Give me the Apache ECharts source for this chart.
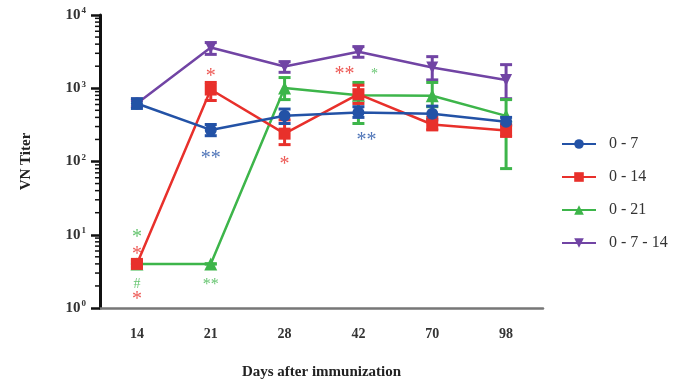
<!DOCTYPE html>
<html>
<head>
<meta charset="utf-8">
<script src="https://cdn.jsdelivr.net/npm/echarts@6/dist/echarts.min.js"></script>
<style>html,body{margin:0;padding:0;background:#fff}#c{width:679px;height:385px}</style>
</head>
<body>
<div id="c"></div>
<script>
var days = ['14', '21', '28', '42', '70', '98'];
var names = ['0 - 7', '0 - 14', '0 - 21', '0 - 7 - 14'];

var g07 = [620, 270, 420, 465, 450, 350];
var g07Lo = [530, 225, 330, 400, 370, 310];
var g07Hi = [720, 320, 520, 560, 570, 400];

var g014 = [4, 960, 240, 830, 320, 265];
var g014Lo = [3.6, 680, 170, 620, 270, 220];
var g014Hi = [4.4, 1200, 370, 1100, 400, 320];

var g021 = [4, 4, 1010, 800, 790, 420];
var g021Lo = [4, 4, 700, 330, 560, 80];
var g021Hi = [4, 4, 1400, 1200, 1200, 700];

var g0714 = [620, 3600, 1980, 3150, 1920, 1300];
var g0714Lo = [560, 2900, 1650, 2650, 1300, 720];
var g0714Hi = [680, 4200, 2300, 3700, 2700, 2100];

var yTicks = [1, 10, 100, 1000, 10000];

// significance annotations: category index, value, text, group index
var annCat = [0, 0, 0, 0, 1, 1, 1, 2, 3, 3, 3];
var annVal = [9.0, 5.4, 2.1, 1.3, 2.1, 1450, 110, 90, 1550, 1550, 195];
var annText = ['*', '*', '#', '*', '**', '*', '**', '*', '**', '*', '**'];
var annGroup = [2, 1, 2, 1, 2, 1, 0, 1, 1, 2, 0];

var colors = ['#2352a6', '#e8302b', '#3db54a', '#7144a4'];
var annDx = [0, 0, 0, 0, 0, 0, 0, 0, -14, 16, 8];
var annSize = [20, 20, 14, 20, 16, 20, 20, 20, 20, 14, 20];

var vals = [g07, g014, g021, g0714];
var los = [g07Lo, g014Lo, g021Lo, g0714Lo];
var his = [g07Hi, g014Hi, g021Hi, g0714Hi];
var symbols = ['circle', 'rect', 'triangle', 'path://M0,0L10,0L5,10Z'];

var serif = '"Liberation Serif","DejaVu Serif",serif';

var minorVals = [];
for (var k = 0; k < 4; k++) {
  for (var m = 2; m <= 9; m++) minorVals.push([0, m * Math.pow(10, k)]);
}

var series = [];
var order = [3, 2, 1, 0];
order.forEach(function (i) {
  var ebData = days.map(function (d, j) { return [j, los[i][j], his[i][j]]; });
  series.push({
    type: 'custom',
    name: names[i] + ' err',
    data: ebData,
    z: 2 + order.indexOf(i),
    renderItem: function (params, api) {
      var x = api.value(0);
      var p1 = api.coord([x, api.value(1)]);
      var p2 = api.coord([x, api.value(2)]);
      var st = { stroke: colors[i], lineWidth: 3 };
      return {
        type: 'group',
        children: [
          { type: 'line', shape: { x1: p1[0], y1: p1[1], x2: p2[0], y2: p2[1] }, style: st },
          { type: 'line', shape: { x1: p1[0] - 6, y1: p1[1], x2: p1[0] + 6, y2: p1[1] }, style: st },
          { type: 'line', shape: { x1: p2[0] - 6, y1: p2[1], x2: p2[0] + 6, y2: p2[1] }, style: st }
        ]
      };
    }
  });
  series.push({
    type: 'line',
    name: names[i],
    data: vals[i],
    symbol: symbols[i],
    symbolSize: i === 2 ? 13 : 12,
    showAllSymbol: true,
    z: 3 + order.indexOf(i),
    lineStyle: { color: colors[i], width: 2.5 },
    itemStyle: { color: colors[i] },
    emphasis: { disabled: true }
  });
});

// minor ticks on log axis
series.push({
  type: 'custom',
  name: 'minor',
  data: minorVals,
  silent: true,
  renderItem: function (params, api) {
    var p = api.coord([0, api.value(1)]);
    var x0 = params.coordSys.x;
    return { type: 'line', shape: { x1: x0 - 5, y1: p[1], x2: x0, y2: p[1] }, style: { stroke: '#111', lineWidth: 1.5 } };
  }
});

// annotations
series.push({
  type: 'custom',
  name: 'ann',
  data: annCat.map(function (c, j) { return [c, annVal[j], j]; }),
  silent: true,
  z: 10,
  renderItem: function (params, api) {
    var j = api.value(2);
    var p = api.coord([api.value(0), api.value(1)]);
    return {
      type: 'text',
      x: p[0] + annDx[j],
      y: p[1],
      style: {
        text: annText[j],
        fill: colors[annGroup[j]],
        font: annSize[j] + 'px ' + serif,
        align: 'center',
        verticalAlign: 'middle',
        opacity: 0.8
      }
    };
  }
});

var chart = echarts.init(document.getElementById('c'));
chart.setOption({
  animation: false,
  backgroundColor: '#fff',
  grid: { left: 100, right: 136, top: 15, bottom: 74 },
  legend: {
    data: names,
    orient: 'vertical',
    left: 556,
    top: 131,
    itemWidth: 34,
    itemHeight: 12,
    itemGap: 17,
    textStyle: { fontFamily: serif, fontSize: 16, color: '#333', padding: [0, 0, 0, 8] }
  },
  xAxis: {
    type: 'category',
    data: days,
    boundaryGap: true,
    name: 'Days after immunization',
    nameLocation: 'middle',
    nameGap: 57,
    nameTextStyle: { fontFamily: serif, fontSize: 15, fontWeight: 'bold', color: '#222' },
    axisLine: { lineStyle: { color: '#777', width: 2.5 } },
    axisTick: { alignWithLabel: true, length: 6, lineStyle: { color: '#222', width: 2 } },
    axisLabel: { fontFamily: serif, fontSize: 14, fontWeight: 'bold', color: '#333', margin: 19 },
    splitLine: { show: false }
  },
  yAxis: {
    type: 'log',
    logBase: 10,
    min: 1,
    max: 10000,
    name: 'VN Titer',
    nameLocation: 'middle',
    nameGap: 66,
    nameTextStyle: { fontFamily: serif, fontSize: 15, fontWeight: 'bold', color: '#222' },
    axisLine: { show: true, lineStyle: { color: '#111', width: 3 } },
    axisTick: { show: true, length: 9, lineStyle: { color: '#111', width: 2.5 } },
    axisLabel: {
      margin: 14,
      formatter: function (v) {
        var e = Math.round(Math.log10(v));
        return '{b|10}{s|' + e + '}';
      },
      rich: {
        b: { fontFamily: serif, fontSize: 15, fontWeight: 'bold', color: '#333' },
        s: { fontFamily: serif, fontSize: 9, fontWeight: 'bold', color: '#333', padding: [0, 0, 8, 1] }
      }
    },
    splitLine: { show: false }
  },
  series: series
});
</script>
</body>
</html>
